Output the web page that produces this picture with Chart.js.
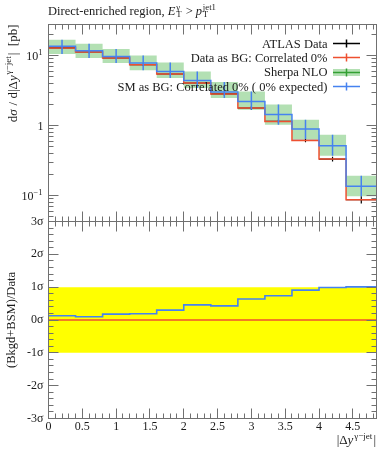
<!DOCTYPE html>
<html><head><meta charset="utf-8">
<script src="https://cdn.jsdelivr.net/npm/chart.js@4.4.1/dist/chart.umd.min.js"></script>
<style>
html,body{margin:0;padding:0;background:#fff;}
#wrap{position:relative;width:389px;height:450px;overflow:hidden;}
canvas{position:absolute;left:0;top:0;}
</style></head><body>
<div id="wrap"><canvas id="main" width="389" height="450"></canvas><canvas id="ratio" width="389" height="450"></canvas></div>
<script>
// ---------------- data ----------------
const binEdges   = [0, 0.4, 0.8, 1.2, 1.6, 2.0, 2.4, 2.8, 3.2, 3.6, 4.0, 4.4, 4.85];
const atlasData  = [12.9, 11.3, 9.27, 7.44, 5.48, 4.07, 2.84, 1.79, 1.15, 0.616, 0.334, 0.0877];
const atlasErr   = [0.5, 0.45, 0.37, 0.3, 0.24, 0.18, 0.14, 0.1, 0.065, 0.037, 0.027, 0.0105];
const dataAsBG   = [12.9, 11.3, 9.27, 7.44, 5.48, 4.07, 2.84, 1.79, 1.15, 0.616, 0.334, 0.0877];
const smAsBG     = [13.6, 11.8, 9.77, 7.87, 5.97, 4.44, 3.03, 2.22, 1.44, 0.896, 0.518, 0.136];
const sherpaHi   = [16.9, 14.8, 12.5, 10.1, 8.02, 5.97, 4.21, 3.09, 2.0, 1.22, 0.743, 0.193];
const sherpaLo   = [10.6, 9.27, 7.87, 6.17, 4.80, 3.46, 2.49, 1.69, 1.03, 0.645, 0.373, 0.098];
const ratioSM    = [0.13, 0.10, 0.18, 0.19, 0.30, 0.46, 0.43, 0.64, 0.74, 0.91, 0.99, 1.01];
const ratioData  = [0, 0, 0, 0, 0, 0, 0, 0, 0, 0, 0, 0];
const sigmaBand  = [-1, 1];

const xMajorTicks = [0, 0.5, 1, 1.5, 2, 2.5, 3, 3.5, 4, 4.5];
const xTickLabels = ['0', '0.5', '1', '1.5', '2', '2.5', '3', '3.5', '4', '4.5'];
const yMainMajorTicks = [0.1, 1, 10];
const yMainTickLabels = [['10', '\u22121'], ['1', ''], ['10', '1']];
const ratioTicks = [-3, -2, -1, 0, 1, 2, 3];
const ratioTickLabels = ['-3\u03c3', '-2\u03c3', '-1\u03c3', '0\u03c3', '1\u03c3', '2\u03c3', '3\u03c3'];
const legendLabels = ['ATLAS Data', 'Data as BG: Correlated 0%', 'Sherpa NLO', 'SM as BG: Correlated 0% ( 0% expected)'];

// ---------------- style ----------------
const X_MAX = binEdges[binEdges.length - 1];
const Y_MIN = 0.0428, Y_MAX = 27.9;
const RED = '#ee5030', BLUE = '#4682f0', GREEN_BAND = '#b3e0b3', GREEN_LINE = '#33a033', YELLOW = '#ffff00';
const AXIS = '#707070', TXT = '#1a1a1a';
const FONT = '"Liberation Serif", "DejaVu Serif", serif';
function fnt(size, it) { return (it ? 'italic ' : '') + size + 'px ' + FONT; }

function stepPts(vals) {
  const pts = vals.map((v, i) => ({x: binEdges[i], y: v}));
  pts.push({x: binEdges[vals.length], y: vals[vals.length - 1]});
  return pts;
}
function vbars(lo, hi) {
  const pts = [];
  lo.forEach((l, i) => {
    const c = (binEdges[i] + binEdges[i + 1]) / 2;
    pts.push({x: c, y: l}, {x: c, y: hi[i]}, {x: c, y: null});
  });
  return pts;
}
function hbars(vals) {
  const pts = [];
  vals.forEach((v, i) => { pts.push({x: binEdges[i], y: v}, {x: binEdges[i + 1], y: v}, {x: binEdges[i + 1], y: null}); });
  return pts;
}

// rich text helper (sub/superscripts)
function segW(ctx, s, base) {
  if (s.sup !== undefined || s.sub !== undefined) {
    ctx.font = fnt(base * 0.7, false);
    let w = 0;
    if (s.sup) w = Math.max(w, ctx.measureText(s.sup).width);
    if (s.sub) w = Math.max(w, ctx.measureText(s.sub).width);
    return w + 1;
  }
  ctx.font = fnt(base, s.it);
  return ctx.measureText(s.t).width + (s.it ? 0.8 : 0);
}
function drawRich(ctx, x, y, segs, base, align) {
  const total = segs.reduce((a, s) => a + segW(ctx, s, base), 0);
  let cx = align === 'right' ? x - total : align === 'center' ? x - total / 2 : x;
  ctx.textAlign = 'left'; ctx.textBaseline = 'alphabetic'; ctx.fillStyle = TXT;
  for (const s of segs) {
    const w = segW(ctx, s, base);
    if (s.sup !== undefined || s.sub !== undefined) {
      ctx.font = fnt(base * 0.7, false);
      if (s.sup) ctx.fillText(s.sup, cx, y - base * 0.4);
      if (s.sub) ctx.fillText(s.sub, cx, y + base * 0.22);
    } else {
      ctx.font = fnt(base, s.it);
      ctx.fillText(s.t, cx, y);
    }
    cx += w;
  }
}

function crisp(v) { return Math.round(v - 0.5) + 0.5; }

const mainDecor = {
  id: 'mainDecor',
  afterDraw(chart) {
    const {ctx, chartArea: a} = chart;
    const xs = chart.scales.x, ys = chart.scales.y;
    ctx.save();
    ctx.strokeStyle = AXIS; ctx.lineWidth = 1;
    ctx.strokeRect(a.left, a.top, a.right - a.left, a.bottom - a.top);
    ctx.beginPath();
    for (let i = 0; i <= Math.floor(X_MAX * 10 + 1e-9); i++) {
      const px = crisp(xs.getPixelForValue(i / 10));
      const len = i % 5 === 0 ? 10 : 5;
      ctx.moveTo(px, a.bottom); ctx.lineTo(px, a.bottom - len);
      ctx.moveTo(px, a.top); ctx.lineTo(px, a.top + len);
    }
    for (let d = -2; d <= 1; d++) {
      for (let m = 1; m <= 9; m++) {
        const v = m * Math.pow(10, d);
        if (v < Y_MIN || v > Y_MAX) continue;
        const py = crisp(ys.getPixelForValue(v));
        const len = m === 1 ? 10 : 5;
        ctx.moveTo(a.left, py); ctx.lineTo(a.left + len, py);
        ctx.moveTo(a.right, py); ctx.lineTo(a.right - len, py);
      }
    }
    ctx.stroke();
    // y tick labels
    yMainMajorTicks.forEach((v, i) => {
      const py = ys.getPixelForValue(v);
      const [b, s] = yMainTickLabels[i];
      const segs = s ? [{t: b}, {sup: s}] : [{t: b}];
      drawRich(ctx, 43.5, py + 4, segs, 12, 'right');
    });
    // title
    drawRich(ctx, 48, 14.5, [{t: 'Direct-enriched region, '}, {t: 'E', it: true}, {sup: '\u03b3', sub: 'T'},
      {t: ' > '}, {t: 'p', it: true}, {sup: 'jet1', sub: 'T'}], 12.5, 'left');
    // y axis title
    ctx.save();
    ctx.translate(16.5, 24.5);
    ctx.rotate(-Math.PI / 2);
    drawRich(ctx, 0, 0, [{t: 'd'}, {t: '\u03c3', it: true}, {t: ' / d|\u0394'}, {t: 'y', it: true},
      {sup: '\u03b3\u2212jet'}, {t: '|  [pb]'}], 13, 'right');
    ctx.restore();
    // legend
    const styles = [{c: '#000'}, {c: RED}, {c: GREEN_LINE, band: true}, {c: BLUE}];
    legendLabels.forEach((lab, i) => {
      const y = 43.5 + i * 14.4;
      const yc = crisp(y);
      ctx.font = fnt(12.5, false); ctx.fillStyle = TXT; ctx.textAlign = 'right'; ctx.textBaseline = 'alphabetic';
      ctx.fillText(lab, 327.5, y + 4);
      const st = styles[i];
      if (st.band) { ctx.fillStyle = GREEN_BAND; ctx.fillRect(333, yc - 3.5, 27, 7); }
      ctx.strokeStyle = st.c; ctx.lineWidth = 1.5;
      ctx.beginPath();
      ctx.moveTo(333, yc); ctx.lineTo(360, yc);
      ctx.moveTo(346.5, yc - 4); ctx.lineTo(346.5, yc + 4);
      ctx.stroke();
    });
    ctx.restore();
  }
};

const ratioDecor = {
  id: 'ratioDecor',
  afterDraw(chart) {
    const {ctx, chartArea: a} = chart;
    const xs = chart.scales.x, ys = chart.scales.y;
    ctx.save();
    ctx.strokeStyle = AXIS; ctx.lineWidth = 1;
    ctx.strokeRect(a.left, a.top, a.right - a.left, a.bottom - a.top);
    ctx.beginPath();
    for (let i = 0; i <= Math.floor(X_MAX * 10 + 1e-9); i++) {
      const px = crisp(xs.getPixelForValue(i / 10));
      const len = i % 5 === 0 ? 10 : 5;
      ctx.moveTo(px, a.bottom); ctx.lineTo(px, a.bottom - len);
      ctx.moveTo(px, a.top); ctx.lineTo(px, a.top + len);
    }
    for (let i = -15; i <= 15; i++) {
      const py = crisp(ys.getPixelForValue(i / 5));
      const len = i % 5 === 0 ? 10 : 5;
      ctx.moveTo(a.left, py); ctx.lineTo(a.left + len, py);
      ctx.moveTo(a.right, py); ctx.lineTo(a.right - len, py);
    }
    ctx.stroke();
    // x axis title
    drawRich(ctx, 376, 444, [{t: '|\u0394'}, {t: 'y', it: true}, {sup: '\u03b3\u2212jet'}, {t: '|'}], 13, 'right');
    // y axis title
    ctx.save();
    ctx.translate(15, (a.top + a.bottom) / 2);
    ctx.rotate(-Math.PI / 2);
    drawRich(ctx, 0, 0, [{t: '(Bkgd+BSM)/Data'}], 12.5, 'center');
    ctx.restore();
    ctx.restore();
  }
};

const lineBase = {pointRadius: 0, pointHoverRadius: 0, fill: false, spanGaps: false, tension: 0};

new Chart(document.getElementById('main'), {
  type: 'line',
  data: {datasets: [
    Object.assign({}, lineBase, {label: 'SM as BG err', data: vbars(sherpaLo, sherpaHi), borderColor: BLUE, borderWidth: 1.5, order: 1}),
    Object.assign({}, lineBase, {label: 'SM as BG', data: stepPts(smAsBG), stepped: true, borderColor: BLUE, borderWidth: 1.5, order: 2}),
    Object.assign({}, lineBase, {label: 'Data as BG', data: stepPts(dataAsBG), stepped: true, borderColor: RED, borderWidth: 1.5, order: 3}),
    Object.assign({}, lineBase, {label: 'ATLAS Data err', data: vbars(atlasData.map((v, i) => v - atlasErr[i]), atlasData.map((v, i) => v + atlasErr[i])), borderColor: '#000', borderWidth: 1.2, order: 4}),
    Object.assign({}, lineBase, {label: 'ATLAS Data', data: hbars(atlasData), borderColor: '#000', borderWidth: 1.2, order: 5}),
    Object.assign({}, lineBase, {label: 'Sherpa NLO hi', data: stepPts(sherpaHi), stepped: true, borderColor: 'rgba(0,0,0,0)', borderWidth: 0, backgroundColor: GREEN_BAND, fill: '+1', order: 6}),
    Object.assign({}, lineBase, {label: 'Sherpa NLO lo', data: stepPts(sherpaLo), stepped: true, borderColor: 'rgba(0,0,0,0)', borderWidth: 0, order: 7})
  ]},
  options: {
    responsive: false, animation: false, devicePixelRatio: 1, events: [],
    layout: {padding: {left: 48.5, top: 24.5, right: 12.5, bottom: 228.5}},
    plugins: {legend: {display: false}, tooltip: {enabled: false}},
    scales: {
      x: {type: 'linear', min: 0, max: X_MAX, display: false},
      y: {type: 'logarithmic', min: Y_MIN, max: Y_MAX, display: false}
    }
  },
  plugins: [mainDecor]
});

new Chart(document.getElementById('ratio'), {
  type: 'line',
  data: {datasets: [
    Object.assign({}, lineBase, {label: 'SM as BG ratio', data: stepPts(ratioSM), stepped: true, borderColor: BLUE, borderWidth: 1.6, order: 1}),
    Object.assign({}, lineBase, {label: 'Data as BG ratio', data: stepPts(ratioData), stepped: true, borderColor: RED, borderWidth: 1.5, order: 2}),
    Object.assign({}, lineBase, {label: '1 sigma', data: [{x: 0, y: sigmaBand[1]}, {x: X_MAX, y: sigmaBand[1]}], borderColor: 'rgba(0,0,0,0)', borderWidth: 0, backgroundColor: YELLOW, fill: {value: sigmaBand[0]}, order: 3})
  ]},
  options: {
    responsive: false, animation: false, devicePixelRatio: 1, events: [],
    layout: {padding: {left: 0, top: 221.5, right: 12.5, bottom: 0}},
    plugins: {legend: {display: false}, tooltip: {enabled: false}},
    scales: {
      x: {type: 'linear', min: 0, max: X_MAX,
        grid: {display: false, drawTicks: false}, border: {display: false},
        afterFit(s) { s.height = 31.5; },
        afterBuildTicks(s) { s.ticks = xMajorTicks.map(v => ({value: v})); },
        ticks: {autoSkip: false, maxRotation: 0, minRotation: 0, padding: 1, color: TXT,
          font: {family: FONT, size: 12}, callback: (v, i) => xTickLabels[i]}},
      y: {type: 'linear', min: -3, max: 3,
        grid: {display: false, drawTicks: false}, border: {display: false},
        afterFit(s) { s.width = 48.5; },
        afterBuildTicks(s) { s.ticks = ratioTicks.map(v => ({value: v})); },
        ticks: {autoSkip: false, padding: 5, color: TXT,
          font: {family: FONT, size: 12}, callback: (v, i) => ratioTickLabels[i]}}
    }
  },
  plugins: [ratioDecor]
});
</script>
</body></html>
